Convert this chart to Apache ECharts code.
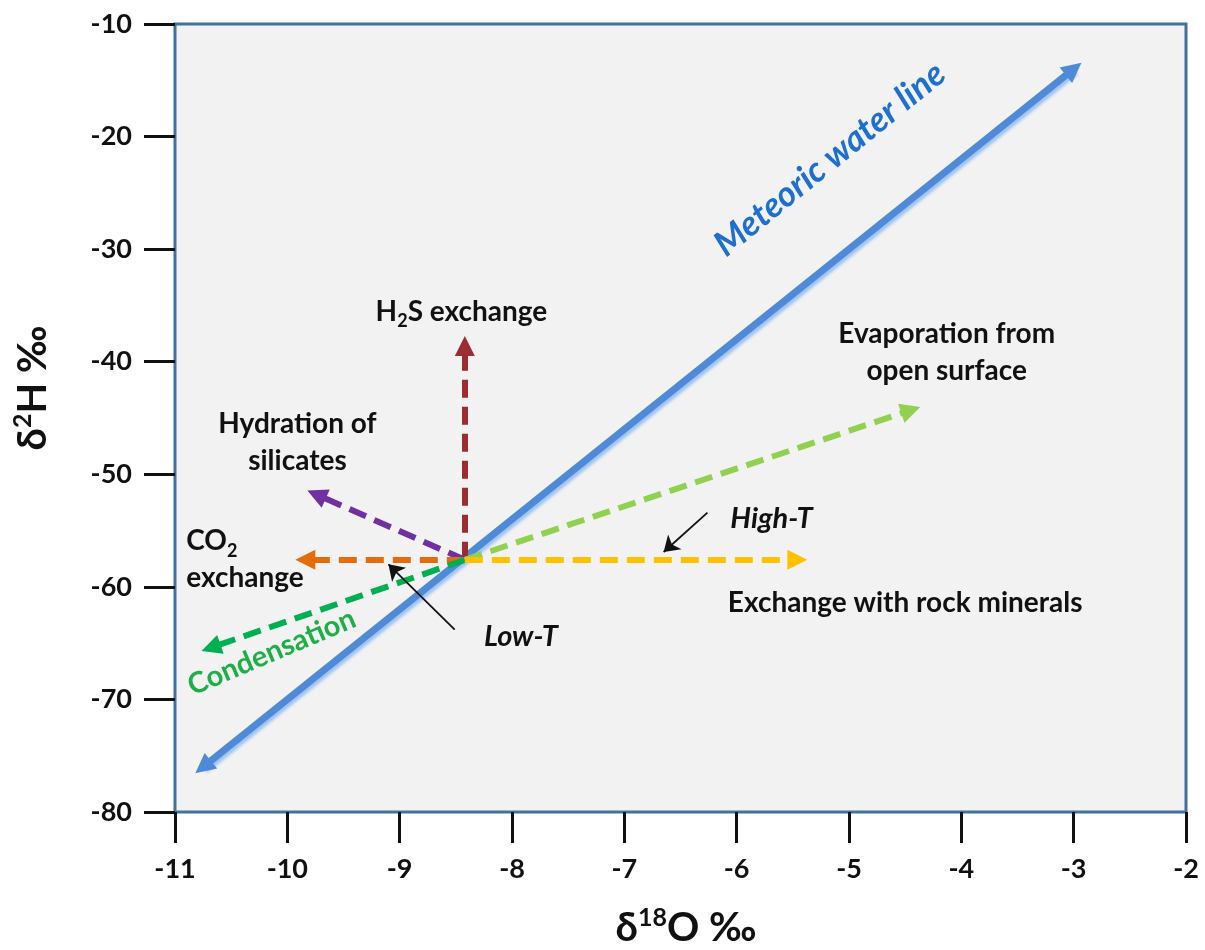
<!DOCTYPE html>
<html>
<head>
<meta charset="utf-8">
<script src="https://cdn.jsdelivr.net/npm/echarts@6/dist/echarts.min.js"></script>
<style>
  html, body { margin: 0; padding: 0; background: #fff; }
  #chart { width: 1205px; height: 950px; }
</style>
</head>
<body>
<div id="chart"></div>
<script>
// Axis ranges and ticks
const xRange = [-11, -2];
const yRange = [-80, -10];
const xStep = 1;
const yStep = 10;

// Global meteoric water line (start, end) in δ18O / δ2H
const meteoricLine = [[-10.75, -76.0], [-3.0, -14.0]];

// Common starting point of the process arrows
const origin = [-8.42, -57.6];

// Process arrow end points
const processNames = ['H2S exchange', 'Hydration of silicates', 'CO2 exchange', 'Condensation', 'Evaporation', 'Exchange with rock minerals'];
const processEnds = [[-8.42, -38.6], [-9.74, -51.8], [-9.84, -57.6], [-10.68, -65.4], [-4.45, -44.3], [-5.46, -57.6]];
const processColors = ['#9b2d30', '#7030a0', '#e46c0a', '#00b050', '#92d050', '#ffc000'];

// Small pointer arrows for the Low-T / High-T notes: [tail, head]
const pointerArrows = [
  [[-8.51, -63.8], [-9.10, -58.0]],
  [[-6.26, -53.4], [-6.65, -56.9]]
];

// Text annotations: position, text, alignment
const noteTexts = [
  { pos: [-8.45, -35.6], text: '{b|H}{s|2}{b|S exchange}', align: 'center' },
  { pos: [-9.91, -47.2], text: '{b|Hydration of}\n{b|silicates}', align: 'center' },
  { pos: [-10.9, -57.6], text: '{b|CO}{s|2}\n{b|exchange}', align: 'left' },
  { pos: [-7.92, -64.4], text: '{i|Low-T}', align: 'center' },
  { pos: [-4.13, -39.2], text: '{b|Evaporation from}\n{b|open surface}', align: 'center' },
  { pos: [-5.69, -53.9], text: '{i|High-T}', align: 'center' },
  { pos: [-4.50, -61.4], text: '{b|Exchange with rock minerals}', align: 'center' }
];
const condensationLabel = { pos: [-10.14, -65.8], text: 'Condensation', rotate: 23 };
const meteoricLabel = { pos: [-5.17, -22.0], text: 'Meteoric water line', rotate: 39 };

const FONT = 'Lato, "Open Sans", sans-serif';
const INK = '#111';

const richStyles = {
  b: { fontFamily: FONT, fontWeight: 'bold', fontSize: 28, color: INK, lineHeight: 37 },
  s: { fontFamily: FONT, fontWeight: 'bold', fontSize: 18, color: INK, verticalAlign: 'bottom', lineHeight: 27 },
  i: { fontFamily: FONT, fontWeight: 'bold', fontStyle: 'italic', fontSize: 29, color: INK, lineHeight: 37 }
};

const chart = echarts.init(document.getElementById('chart'), null, { renderer: 'canvas' });

const series = [];

// Meteoric water line with a pale under-stroke
series.push({
  type: 'lines',
  coordinateSystem: 'cartesian2d',
  z: 3,
  symbol: ['triangle', 'triangle'],
  symbolSize: [20, 20],
  lineStyle: { color: '#4f8ad8', width: 7, opacity: 1, shadowColor: 'rgba(150,190,240,0.9)', shadowOffsetX: 2, shadowOffsetY: 3, shadowBlur: 3 },
  data: [{ coords: meteoricLine }]
});

// Process arrows
processEnds.forEach((end, i) => {
  series.push({
    type: 'lines',
    name: processNames[i],
    coordinateSystem: 'cartesian2d',
    z: 4,
    symbol: ['none', 'triangle'],
    symbolSize: [22, 20],
    lineStyle: { color: processColors[i], width: 6, opacity: 1, type: [18, 9] },
    data: [{ coords: [origin, end] }]
  });
});

// Thin black pointers
series.push({
  type: 'lines',
  coordinateSystem: 'cartesian2d',
  z: 5,
  symbol: ['none', 'arrow'],
  symbolSize: [10, 15],
  lineStyle: { color: INK, width: 1.8, opacity: 1 },
  data: pointerArrows.map(c => ({ coords: c }))
});

// Annotations
series.push({
  type: 'scatter',
  z: 6,
  symbolSize: 0,
  silent: true,
  itemStyle: { opacity: 1 },
  data: noteTexts.map(n => ({
    value: n.pos,
    label: { show: true, position: 'inside', formatter: n.text, align: n.align, verticalAlign: 'middle', color: INK, rich: richStyles }
  }))
});
series.push({
  type: 'scatter',
  z: 6,
  symbolSize: 0,
  silent: true,
  itemStyle: { opacity: 1 },
  data: [
    { value: condensationLabel.pos, label: { show: true, position: 'inside', formatter: condensationLabel.text, rotate: condensationLabel.rotate, fontFamily: FONT, fontWeight: 'bold', fontSize: 29, color: '#1fae48' } },
    { value: meteoricLabel.pos, label: { show: true, position: 'inside', formatter: meteoricLabel.text, rotate: meteoricLabel.rotate, fontFamily: FONT, fontWeight: 'bold', fontStyle: 'italic', fontSize: 35, color: '#1f6fcf' } }
  ]
});

const titleRich = {
  t: { fontFamily: FONT, fontWeight: 'bold', fontSize: 40, fill: INK, lineHeight: 46 },
  sup: { fontFamily: FONT, fontWeight: 'bold', fontSize: 25, fill: INK, verticalAlign: 'top', lineHeight: 30 }
};

chart.setOption({
  animation: false,
  backgroundColor: '#fff',
  grid: {
    left: 175, right: 19, top: 24, bottom: 138,
    show: true, backgroundColor: '#f2f2f2', borderColor: '#41719c', borderWidth: 3
  },
  xAxis: {
    type: 'value', min: xRange[0], max: xRange[1], interval: xStep,
    axisLine: { show: false },
    splitLine: { show: false },
    axisTick: { show: true, inside: false, length: 31, lineStyle: { color: INK, width: 3 } },
    axisLabel: { margin: 44, fontFamily: FONT, fontWeight: 'bold', fontSize: 27, color: INK }
  },
  yAxis: {
    type: 'value', min: yRange[0], max: yRange[1], interval: yStep,
    axisLine: { show: false },
    splitLine: { show: false },
    axisTick: { show: true, inside: false, length: 31, lineStyle: { color: INK, width: 3 } },
    axisLabel: { margin: 43, fontFamily: FONT, fontWeight: 'bold', fontSize: 27, color: INK }
  },
  graphic: [
    { type: 'text', x: 686, y: 928, style: { text: '{t|δ}{sup|18}{t|O ‰}', rich: titleRich, align: 'center', verticalAlign: 'middle' } },
    { type: 'text', x: 33, y: 388, rotation: Math.PI / 2, style: { text: '{t|δ}{sup|2}{t|H ‰}', rich: titleRich, align: 'center', verticalAlign: 'middle' } }
  ],
  series: series
});
</script>
</body>
</html>
